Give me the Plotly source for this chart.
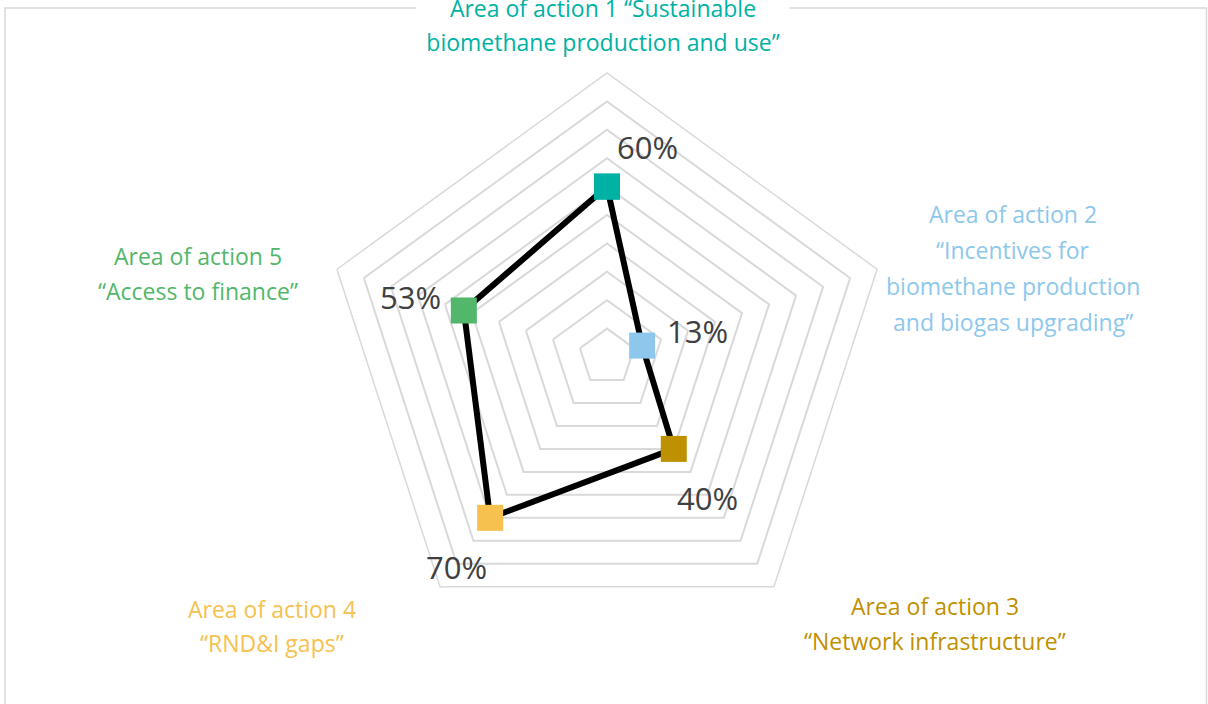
import math
import plotly.graph_objects as go

# ---- data ----
categories = ["Area of action 1", "Area of action 2", "Area of action 3",
              "Area of action 4", "Area of action 5"]
values = [0.60, 0.13, 0.40, 0.70, 0.53]
value_labels = ["60%", "13%", "40%", "70%", "53%"]
point_colors = ["#00B2A4", "#8DC8EC", "#BF9000", "#F6C14F", "#52B76A"]
category_lines = [
    ["Area of action 1 \u201cSustainable", "biomethane production and use\u201d"],
    ["Area of action 2", "\u201cIncentives for", "biomethane production", "and biogas upgrading\u201d"],
    ["Area of action 3", "\u201cNetwork infrastructure\u201d"],
    ["Area of action 4", "\u201cRND&I gaps\u201d"],
    ["Area of action 5", "\u201cAccess to finance\u201d"],
]
ring_values = [0.1, 0.2, 0.3, 0.4, 0.5, 0.6, 0.7, 0.8, 0.9, 1.0]

# ---- styling ----
W, H = 1208, 704
FONT = "Open Sans"
GRID = "#D9D9D9"
label_shift = [(40, -40), (55, -15), (34, 49), (-34, 49), (-53, -13)]  # px offsets of value labels

# closed polygon
r_closed = values + values[:1]
theta_closed = categories + categories[:1]
colors_closed = point_colors + point_colors[:1]

fig = go.Figure()
fig.add_trace(go.Scatterpolar(
    r=r_closed, theta=theta_closed,
    mode="lines+markers",
    line=dict(color="black", width=6),
    marker=dict(symbol="square", size=26, color=colors_closed, line=dict(width=0)),
    hoverinfo="skip", showlegend=False, cliponaxis=False,
))

# polar geometry (pixels)
cx, cy, R = 607, 357, 284
fig.update_layout(
    width=W, height=H,
    margin=dict(l=0, r=0, t=0, b=0),
    paper_bgcolor="white", plot_bgcolor="white",
    polar=dict(
        domain=dict(x=[(cx - R) / W, (cx + R) / W],
                    y=[(H - cy - R) / H, (H - cy + R) / H]),
        gridshape="linear",
        bgcolor="white",
        radialaxis=dict(range=[0, 1], tickvals=ring_values, showticklabels=False,
                        ticks="", showline=False, gridcolor=GRID, gridwidth=1.5),
        angularaxis=dict(rotation=90, direction="clockwise", showticklabels=False,
                         ticks="", showgrid=False, showline=True,
                         linecolor=GRID, linewidth=1.5),
    ),
)

# value labels, placed relative to each data point
n = len(categories)
for i, (v, lab) in enumerate(zip(values, value_labels)):
    ang = math.radians(90 - 360 / n * i)
    px = cx + R * v * math.cos(ang)
    py = cy - R * v * math.sin(ang)
    dx, dy = label_shift[i]
    fig.add_annotation(
        x=(px + dx) / W, y=1 - (py + dy) / H, xref="paper", yref="paper",
        text=lab, showarrow=False, xanchor="center", yanchor="middle",
        font=dict(family=FONT, size=31, color="#404040"))

# chart-area frame
fig.add_shape(type="rect", xref="paper", yref="paper",
              x0=5 / W, x1=1206.5 / W, y0=-0.02, y1=1 - 8 / H,
              line=dict(color=GRID, width=1.5), fillcolor="rgba(0,0,0,0)", layer="below")

# category labels (one annotation per line)
label_anchor = [
    (603, [8, 42]),
    (1013, [214, 250, 286, 322]),
    (935, [606, 641]),
    (272, [609, 643]),
    (198, [256, 291]),
]
for i, (lines, (x, ys)) in enumerate(zip(category_lines, label_anchor)):
    for j, (txt, y) in enumerate(zip(lines, ys)):
        kw = {}
        if i == 0:
            kw = dict(bgcolor="white", width=370)
        fig.add_annotation(
            x=x / W, y=1 - y / H, xref="paper", yref="paper",
            text=txt, showarrow=False, xanchor="center", yanchor="middle",
            font=dict(family=FONT, size=23, color=point_colors[i]),
            align="center", **kw)

fig.write_html("out.html")
